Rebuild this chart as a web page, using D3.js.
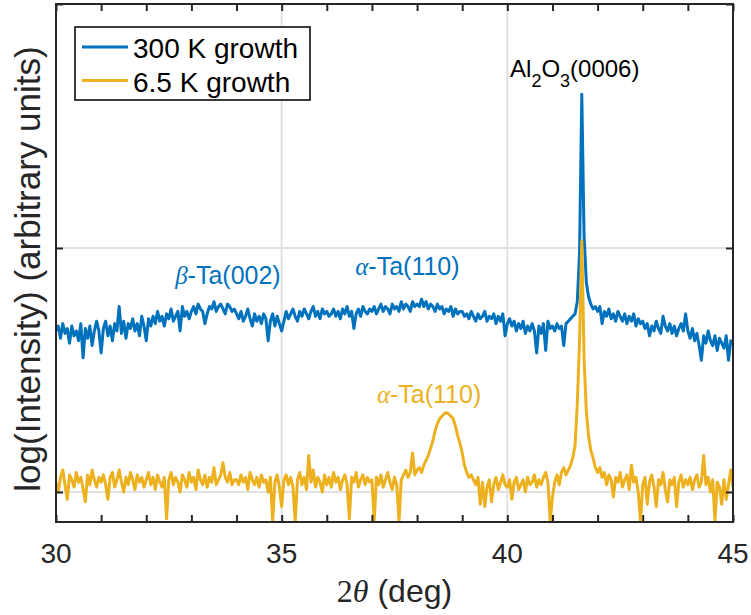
<!DOCTYPE html>
<html><head><meta charset="utf-8">
<script src="https://cdn.jsdelivr.net/npm/d3@7"></script>
<style>body{margin:0;background:#fff}svg{display:block}</style>
</head><body><svg id="c" width="751" height="615"></svg>
<script>
// ---- data (log10 intensity, 2θ from 30° in 0.05° steps) ----
const twoThetaStart = 30, twoThetaStep = 0.05;
const series300K = [
 1.66,1.68,1.63,1.69,1.65,1.67,1.61,1.68,1.64,1.66,1.62,1.69,1.55,1.67,1.63,1.68,1.60,1.66,1.70,1.66,
 1.57,1.67,1.70,1.64,1.68,1.62,1.69,1.66,1.76,1.65,1.70,1.63,1.69,1.67,1.71,1.66,1.69,1.64,1.72,1.68,
 1.62,1.71,1.68,1.72,1.69,1.74,1.70,1.72,1.68,1.73,1.71,1.75,1.70,1.72,1.74,1.66,1.76,1.72,1.74,1.71,
 1.74,1.76,1.73,1.77,1.75,1.74,1.69,1.73,1.76,1.75,1.78,1.74,1.76,1.77,1.75,1.73,1.77,1.76,1.74,1.75,
 1.73,1.71,1.74,1.70,1.72,1.75,1.71,1.68,1.73,1.70,1.72,1.69,1.73,1.71,1.62,1.70,1.73,1.68,1.72,1.69,
 1.66,1.70,1.74,1.71,1.73,1.75,1.72,1.70,1.74,1.72,1.75,1.73,1.71,1.74,1.76,1.72,1.74,1.71,1.75,1.73,
 1.74,1.72,1.73,1.75,1.72,1.74,1.71,1.75,1.73,1.76,1.72,1.74,1.67,1.73,1.75,1.72,1.76,1.74,1.73,1.75,
 1.74,1.76,1.73,1.75,1.77,1.74,1.76,1.75,1.73,1.77,1.75,1.76,1.74,1.78,1.75,1.77,1.76,1.74,1.78,1.76,
 1.77,1.76,1.79,1.76,1.78,1.75,1.77,1.76,1.74,1.77,1.75,1.76,1.73,1.75,1.74,1.76,1.72,1.75,1.73,1.74,
 1.74,1.72,1.73,1.71,1.74,1.72,1.70,1.73,1.71,1.72,1.74,1.70,1.72,1.71,1.73,1.69,1.72,1.70,1.73,1.64,
 1.69,1.71,1.68,1.70,1.66,1.69,1.67,1.70,1.65,1.68,1.66,1.69,1.66,1.57,1.68,1.65,1.69,1.58,1.70,1.67,
 1.68,1.66,1.69,1.67,1.68,1.60,1.69,1.70,1.71,1.72,1.73,1.78,1.98,2.63,2.05,1.86,1.80,1.77,1.75,1.76,
 1.74,1.76,1.69,1.74,1.72,1.75,1.71,1.73,1.70,1.74,1.72,1.70,1.73,1.69,1.72,1.70,1.73,1.68,1.71,1.69,
 1.70,1.67,1.69,1.64,1.68,1.66,1.70,1.67,1.65,1.72,1.68,1.66,1.69,1.65,1.68,1.64,1.67,1.69,1.66,1.73,
 1.66,1.63,1.67,1.62,1.65,1.60,1.54,1.64,1.61,1.66,1.62,1.60,1.64,1.58,1.63,1.61,1.59,1.64,1.54,1.62,
 1.61
];
const series6p5K = [
 1.04,1.00,1.06,1.09,1.03,0.97,1.07,1.05,1.02,1.08,1.04,1.06,1.01,0.96,1.07,1.03,1.09,1.05,1.02,1.06,
 1.04,1.07,1.03,0.97,1.06,1.08,1.02,1.05,1.09,1.04,1.00,1.06,1.03,1.08,1.05,1.01,1.07,1.04,1.06,1.02,
 1.05,1.08,1.03,1.06,1.01,1.07,1.04,1.02,1.06,0.89,1.05,1.08,1.03,1.06,1.04,1.00,1.07,1.05,1.02,1.08,
 1.04,1.06,1.01,1.09,1.05,1.03,1.07,1.02,1.06,1.04,1.10,1.03,1.05,1.07,1.12,1.06,1.04,1.08,1.03,1.05,
 1.05,1.03,1.07,1.04,1.06,1.01,1.08,1.05,1.03,1.06,1.02,1.07,1.04,1.05,1.00,1.06,0.88,1.04,1.07,1.02,
 0.94,1.05,1.07,1.03,1.06,1.02,0.88,1.05,1.08,1.03,1.06,1.01,1.15,1.04,1.09,1.02,1.06,1.04,1.00,1.07,
 1.03,1.06,1.02,1.08,1.04,1.06,1.01,1.05,1.07,1.03,0.89,1.06,1.04,1.08,1.02,1.05,1.07,1.03,1.06,1.04,
 1.05,0.88,1.06,1.03,1.07,1.02,1.05,1.08,1.04,1.01,1.06,1.03,0.88,1.05,1.07,1.09,1.06,1.08,1.16,1.07,
 1.09,1.10,1.08,1.11,1.13,1.15,1.18,1.21,1.25,1.28,1.30,1.31,1.32,1.325,1.32,1.31,1.30,1.27,1.23,1.20,
 1.16,1.11,1.08,1.06,1.07,1.05,1.03,1.06,0.95,1.04,0.94,1.02,1.05,0.96,1.03,1.06,1.01,1.04,1.07,1.03,
 1.02,1.05,0.97,1.04,1.06,1.01,1.03,1.05,1.00,1.06,1.03,1.04,1.07,1.02,1.05,1.03,1.06,1.08,1.04,0.88,
 0.98,1.04,1.07,1.03,1.08,1.10,1.07,1.09,1.11,1.14,1.19,1.36,1.62,2.03,1.55,1.33,1.23,1.17,1.14,1.10,
 1.08,1.10,1.06,1.08,1.03,1.07,1.05,0.98,1.06,1.04,1.08,1.02,1.05,1.07,1.01,1.11,1.04,1.06,1.00,0.88,
 1.03,1.06,0.95,1.04,1.07,1.02,0.94,1.05,1.03,1.08,1.01,0.96,1.05,1.03,1.06,0.94,1.04,1.07,1.02,1.05,
 1.03,1.06,1.01,1.05,1.07,1.02,1.04,1.15,1.03,1.06,1.00,1.05,0.88,1.04,1.02,0.95,1.05,0.97,1.03,1.09,
 1.02
];
const seriesNames = ["300 K growth", "6.5 K growth"];
const seriesColors = ["#0072BD", "#EDB120"];
const xDomain = [30, 45];
const yDomain = [0.877, 3];
const xTicks = [30, 35, 40, 45];
const xTickLabels = ["30", "35", "40", "45"];
const xMinorTicks = [31, 32, 33, 34, 36, 37, 38, 39, 41, 42, 43, 44];
const yTicks = [1, 2, 3];
// annotation labels: [greek prefix, text, 2θ, logI, colour index]
const peakLabels = [
  {greek: "β", text: "-Ta(002)", x: 32.64, y: 1.852, c: 0},
  {greek: "α", text: "-Ta(110)", x: 36.63, y: 1.889, c: 0},
  {greek: "α", text: "-Ta(110)", x: 37.11, y: 1.365, c: 1}
];
const substrateLabel = {x: 40.06, y: 2.70};

// ---- drawing ----
const svg = d3.select("#c");
const W = 751, H = 615;
const L = 56, R = 733, T = 4, B = 522;
const x = d3.scaleLinear().domain(xDomain).range([L, R]);
const y = d3.scaleLinear().domain(yDomain).range([B, T]);
const SANS = "'Liberation Sans', Arial, Helvetica, sans-serif";
const SERIF = "'Liberation Serif', 'Times New Roman', serif";
const axisCol = "#262626";

svg.append("rect").attr("width", W).attr("height", H).attr("fill", "#fff");

// grid
const grid = svg.append("g").attr("stroke", "#e2e2e2").attr("stroke-width", 2);
grid.selectAll("line.v").data(xTicks).join("line")
  .attr("x1", d => x(d)).attr("x2", d => x(d)).attr("y1", T).attr("y2", B);
grid.selectAll("line.h").data(yTicks).join("line")
  .attr("x1", L).attr("x2", R).attr("y1", d => y(d)).attr("y2", d => y(d));

// clip
svg.append("clipPath").attr("id", "clip").append("rect")
  .attr("x", L).attr("y", T).attr("width", R - L).attr("height", B - T);

const xs = i => twoThetaStart + i * twoThetaStep;
const line = d3.line().x((d, i) => x(xs(i))).y(d => y(d));
const plot = svg.append("g").attr("clip-path", "url(#clip)");
[series300K, series6p5K].forEach((s, k) => {
  plot.append("path").datum(s).attr("d", line)
    .attr("fill", "none").attr("stroke", seriesColors[k])
    .attr("stroke-width", 3).attr("stroke-linejoin", "round");
});

// axes with inward ticks (MATLAB style)
const tickLen = 7;
const axB = svg.append("g").attr("transform", `translate(0,${B})`)
  .call(d3.axisBottom(x).tickValues(xTicks.concat(xMinorTicks)).tickSizeInner(-tickLen).tickSizeOuter(0).tickFormat(() => ""));
const axT = svg.append("g").attr("transform", `translate(0,${T})`)
  .call(d3.axisTop(x).tickValues(xTicks.concat(xMinorTicks)).tickSizeInner(-tickLen).tickSizeOuter(0).tickFormat(() => ""));
const axL = svg.append("g").attr("transform", `translate(${L},0)`)
  .call(d3.axisLeft(y).tickValues(yTicks).tickSizeInner(-tickLen).tickSizeOuter(0).tickFormat(() => ""));
const axR = svg.append("g").attr("transform", `translate(${R},0)`)
  .call(d3.axisRight(y).tickValues(yTicks).tickSizeInner(-tickLen).tickSizeOuter(0).tickFormat(() => ""));
[axB, axT, axL, axR].forEach(a => {
  a.select(".domain").remove();
  a.selectAll(".tick line").attr("stroke", axisCol).attr("stroke-width", 2);
});
svg.append("rect").attr("x", L).attr("y", T).attr("width", R - L).attr("height", B - T)
  .attr("fill", "none").attr("stroke", axisCol).attr("stroke-width", 2);

// x tick labels
svg.append("g").selectAll("text").data(xTicks).join("text")
  .attr("x", d => x(d)).attr("y", 563).attr("text-anchor", "middle")
  .attr("font-family", SANS).attr("font-size", 28).attr("fill", axisCol)
  .text((d, i) => xTickLabels[i]);

// x label
const xl = svg.append("text").attr("x", (L + R) / 2).attr("y", 602).attr("text-anchor", "middle")
  .attr("font-size", 32).attr("fill", axisCol);
xl.append("tspan").attr("font-family", SERIF).text("2");
xl.append("tspan").attr("font-family", SERIF).attr("font-style", "italic").text("θ");
xl.append("tspan").attr("font-family", SANS).text(" (deg)");

// y label
svg.append("text").attr("transform", `translate(40,269) rotate(-90)`).attr("text-anchor", "middle")
  .attr("font-family", SANS).attr("font-size", 35).attr("fill", axisCol)
  .text("log(Intensity) (arbitrary units)");

// peak labels
peakLabels.forEach(p => {
  const t = svg.append("text").attr("x", x(p.x)).attr("y", y(p.y))
    .attr("font-size", 25).attr("fill", seriesColors[p.c]);
  t.append("tspan").attr("font-family", SERIF).attr("font-style", "italic").text(p.greek);
  t.append("tspan").attr("font-family", SANS).text(p.text);
});
const sl = svg.append("text").attr("x", x(substrateLabel.x)).attr("y", y(substrateLabel.y))
  .attr("font-family", SANS).attr("font-size", 24).attr("fill", "#000");
sl.append("tspan").text("Al");
sl.append("tspan").attr("font-size", 18).attr("dy", 10).text("2");
sl.append("tspan").attr("dy", -10).text("O");
sl.append("tspan").attr("font-size", 18).attr("dy", 10).text("3");
sl.append("tspan").attr("dy", -10).text("(0006)");

// legend
const lg = svg.append("g");
lg.append("rect").attr("x", 75).attr("y", 27).attr("width", 235).attr("height", 73)
  .attr("fill", "#fff").attr("stroke", axisCol).attr("stroke-width", 1.8);
seriesNames.forEach((n, i) => {
  const yy = 47 + i * 33.5;
  lg.append("line").attr("x1", 82).attr("x2", 128).attr("y1", yy).attr("y2", yy)
    .attr("stroke", seriesColors[i]).attr("stroke-width", 3);
  lg.append("text").attr("x", 133).attr("y", yy + 11).attr("font-family", SANS)
    .attr("font-size", 28).attr("fill", "#000").text(n);
});
</script>
</body></html>
